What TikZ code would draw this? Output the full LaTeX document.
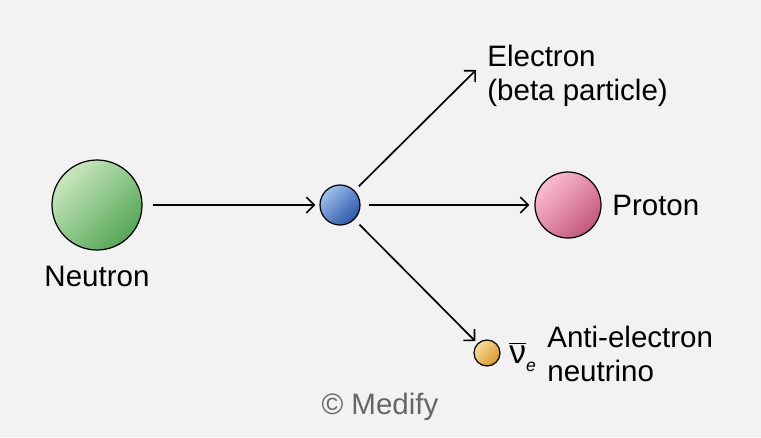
\documentclass[tikz,border=0pt]{standalone}
\usepackage{fontspec}
\setmainfont{Liberation Sans}
\usetikzlibrary{arrows.meta}

\definecolor{bgcol}{HTML}{F2F2F2}
\definecolor{creditcol}{HTML}{666666}
\definecolor{neutronlight}{HTML}{C9E7BF}
\definecolor{neutrondark}{HTML}{55A657}
\definecolor{decaylight}{HTML}{9DC0EF}
\definecolor{decaydark}{HTML}{2D56A6}
\definecolor{protonlight}{HTML}{FCBCD1}
\definecolor{protondark}{HTML}{C2577A}
\definecolor{nulight}{HTML}{F9DE9F}
\definecolor{nudark}{HTML}{D6952B}

\begin{document}
\begin{tikzpicture}[x=0.02cm,y=-0.02cm,
  every node/.style={inner sep=0pt,font=\fontsize{16.8}{19.5}\selectfont},
  ball/.style n args={3}{circle,draw=black,line width=0.7pt,minimum size=#1*0.02cm,
    top color=#2,bottom color=#3,shading angle=45},
  arr/.style={line width=0.95pt,-{Straight Barb[length=4.5pt,width=9pt]}}]
\fill [bgcol] (0,0) rectangle (761,437);
\useasboundingbox (0,0) rectangle (761,437);
% particles
\node [ball={90}{neutronlight}{neutrondark}] (neutron) at (97,205) {};
\node (neutronlbl) at (97,276) {Neutron};
\node [ball={40}{decaylight}{decaydark}] (decay) at (340,205) {};
\node [ball={66}{protonlight}{protondark}] (proton) at (568,205) {};
\node [anchor=west] (protonlbl) at (612,205) {Proton};
\node [ball={26}{nulight}{nudark}] (nu) at (487,353) {};
\node [anchor=west] (nusym) at (509,357) {$\overline{\mbox{\fontsize{19}{19}\selectfont ν}}_{\raisebox{-2pt}{\fontsize{10}{10}\selectfont\itshape e}}$};
\node [anchor=west,align=left] (nulbl) at (547,354) {Anti-electron\\neutrino};
\coordinate (etip) at (476,70);
\node [anchor=west,align=left] (electron) at (487,76) {Electron\\(beta particle)};
\node [text=creditcol] (credit) at (380,407) {© Medify};
% decay arrows
\draw [arr,shorten <=0.2cm,shorten >=0.08cm] (neutron) -- (decay);
\draw [arr,shorten <=0.12cm] (decay) -- (etip);
\draw [arr,shorten <=0.16cm,shorten >=0.1cm] (decay) -- (proton);
\draw [arr,shorten <=0.14cm,shorten >=0.06cm] (decay) -- (nu);
\end{tikzpicture}
\end{document}
